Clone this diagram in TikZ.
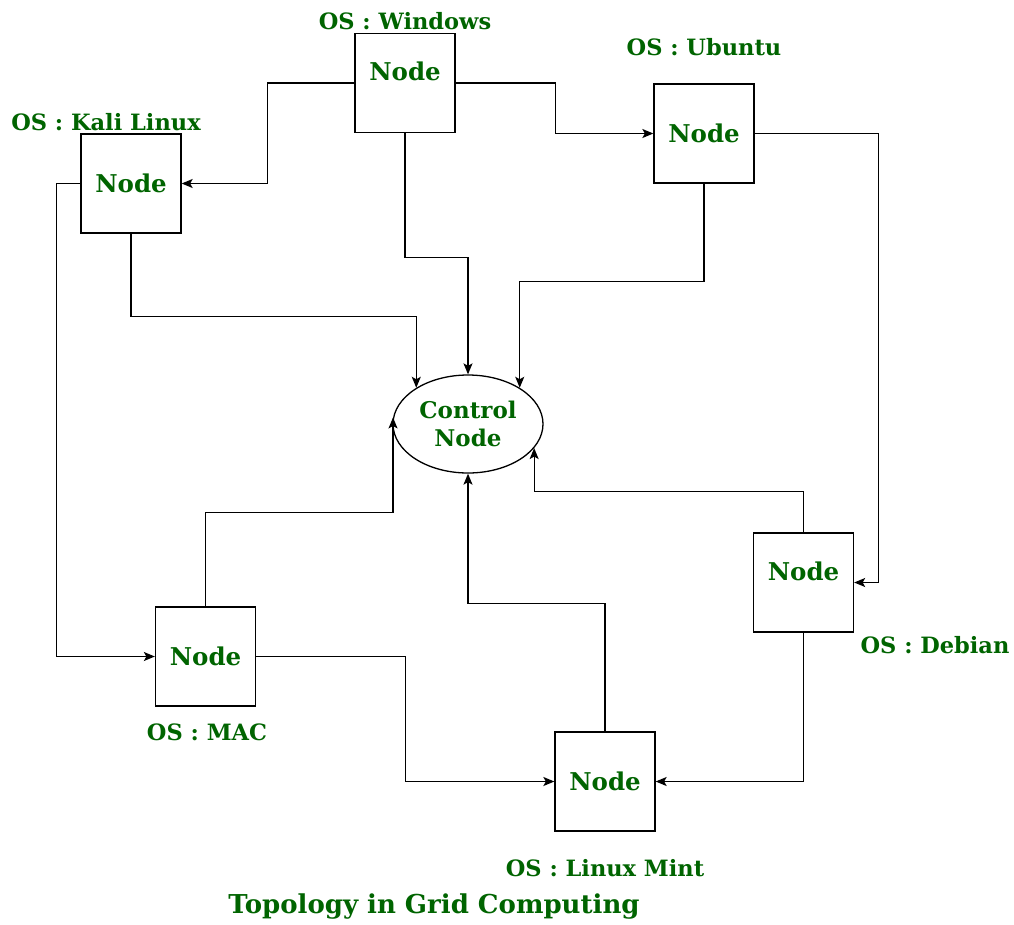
\documentclass[tikz,border=0pt]{standalone}
\usepackage{fontspec}
\setmainfont{DejaVu Serif}
\usetikzlibrary{shapes.geometric,arrows.meta}
\definecolor{txtgreen}{RGB}{0,100,0}
\begin{document}
\begin{tikzpicture}[x=1pt,y=-1pt,
  box/.style={draw, line width=1.3pt, minimum width=100pt, minimum height=99pt,
    inner sep=0pt, text height=17pt, text depth=0pt,
    font=\bfseries\fontsize{24.5}{26}\selectfont, text=txtgreen},
  upper/.style={text depth=22pt},
  oslabel/.style={font=\bfseries\fontsize{22.5}{24}\selectfont, text=txtgreen, inner sep=0pt},
  link/.style={line width=1.3pt, -{Stealth[length=11pt,width=9pt,inset=2.5pt]}},
  ]
\useasboundingbox (0,0) rectangle (1014,924);

% grid members
\node[box, upper] (win)  at (405,83)    {Node};
\node[box]        (ubu)  at (704,133.5) {Node};
\node[box]        (kali) at (131,183.5) {Node};
\node[box]        (mac)  at (205.5,656.5) {Node};
\node[box, upper] (deb)  at (803.5,582.5) {Node};
\node[box]        (mint) at (605,781.5) {Node};

% central controller
\node[ellipse, draw, line width=1.3pt, minimum width=150pt, minimum height=98pt,
      inner sep=0pt, align=center, text=txtgreen,
      font=\bfseries\fontsize{23}{28}\selectfont] (ctrl) at (468,424) {Control\\Node};

% operating system labels
\node[oslabel] (lwin)  at (405,21)  {OS : Windows};
\node[oslabel] (lubu)  at (704,47)  {OS : Ubuntu};
\node[oslabel] (lkali) at (106,122) {OS : Kali Linux};
\node[oslabel] (lmac)  at (207,732) {OS : MAC};
\node[oslabel] (ldeb)  at (935,645) {OS : Debian};
\node[oslabel] (lmint) at (605,868) {OS : Linux Mint};

% title
\node[font=\bfseries\fontsize{26}{30}\selectfont, text=txtgreen, inner sep=0pt]
  (title) at (434,906) {Topology in Grid Computing};

% links between members
\draw[link] (win.west)  -- ++(-87,0)  |- (kali.east);
\draw[link] (win.east)  -- ++(100,0)  |- (ubu.west);
\draw[link] (ubu.east)  -- ++(124,0)  |- (deb.east);
\draw[link] (kali.west) -- ++(-24,0)  |- (mac.west);
\draw[link] (mac.east)  -- ++(149,0)  |- (mint.west);
\draw[link] (deb.south) |- (mint.east);

% links into the controller
\draw[link] (win.south)  -- ++(0,124)  -| (ctrl.north);
\draw[link] (ubu.south)  -- ++(0,98)   -| (ctrl.35);
\draw[link] (kali.south) -- ++(0,83)   -| (ctrl.145);
\draw[link] (mac.north)  -- ++(0,-94)  -| (ctrl.175);
\draw[link] (mint.north) -- ++(0,-128) -| (ctrl.south);
\draw[link] (deb.north)  -- ++(0,-41)  -| (ctrl.-20);
\end{tikzpicture}
\end{document}
